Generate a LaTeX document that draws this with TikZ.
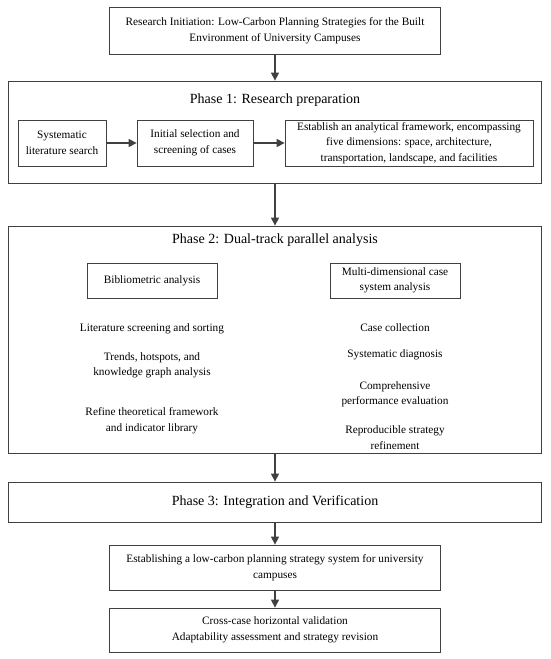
\documentclass[tikz,border=0pt]{standalone}
\usepackage{fontspec}
\setmainfont{Liberation Serif}
\usetikzlibrary{arrows.meta}
\definecolor{linec}{HTML}{404040}
\begin{document}
\begin{tikzpicture}[x=1pt,y=-1pt,
  box/.style={draw=linec, line width=0.8pt, fill=white, inner sep=0pt, anchor=center},
  txt/.style={font=\fontsize{11.3}{15.5}\selectfont, align=center, text=black},
  ttl/.style={font=\fontsize{14}{16}\selectfont, text=black},
  arr/.style={draw=linec, line width=1.3pt, -{Triangle[length=8pt,width=8pt]}}]
\useasboundingbox (0,0) rectangle (550,659);
% top
\node[box, minimum width=331pt, minimum height=47pt] (top) at (275,30.5) {};
\node[txt] (toptxt) at (275,30.5) {Research Initiation: Low-Carbon Planning Strategies for the Built\\Environment of University Campuses};
% phase 1
\node[box, minimum width=533pt, minimum height=102pt] (p1) at (275,132) {};
\node[ttl] (p1t) at (275,100) {Phase 1: Research preparation};
\node[box, minimum width=88pt, minimum height=46pt, txt] (s1) at (62,143) {Systematic\\literature search};
\node[box, minimum width=116pt, minimum height=46pt, txt] (s2) at (195,143) {Initial selection and\\screening of cases};
\node[box, minimum width=248pt, minimum height=46pt, txt] (s3) at (409,143) {Establish an analytical framework, encompassing\\five dimensions: space, architecture,\\transportation, landscape, and facilities};
% phase 2
\node[box, minimum width=533pt, minimum height=227pt] (p2) at (275,339.5) {};
\node[ttl] (p2t) at (275,240) {Phase 2: Dual-track parallel analysis};
\node[box, minimum width=130pt, minimum height=35pt, txt] (bib) at (152,280.5) {Bibliometric analysis};
\node[box, minimum width=130pt, minimum height=35pt, txt] (mul) at (395,280.5) {Multi-dimensional case\\system analysis};
\node[txt] (l1) at (152,329) {Literature screening and sorting};
\node[txt] (l2) at (152,365.5) {Trends, hotspots, and\\knowledge graph analysis};
\node[txt] (l3) at (152,420.5) {Refine theoretical framework\\and indicator library};
\node[txt] (r1) at (395,328) {Case collection};
\node[txt] (r2) at (395,355) {Systematic diagnosis};
\node[txt] (r3) at (395,394.5) {Comprehensive\\performance evaluation};
\node[txt] (r4) at (395,437.5) {Reproducible strategy\\refinement};
% phase 3
\node[box, minimum width=533pt, minimum height=40pt] (p3) at (275,502) {};
\node[ttl] (p3t) at (275,502) {Phase 3: Integration and Verification};
\node[box, minimum width=331pt, minimum height=45pt, txt] (a) at (275,567.5) {Establishing a low-carbon planning strategy system for university\\campuses};
\node[box, minimum width=331pt, minimum height=44pt, txt] (b) at (275,630) {Cross-case horizontal validation\\Adaptability assessment and strategy revision};
% arrows
\draw[arr] (top.south) -- (p1.north);
\draw[arr] (p1.south) -- (p2.north);
\draw[arr] (p2.south) -- (p3.north);
\draw[arr] (p3.south) -- (a.north);
\draw[arr] (a.south) -- (b.north);
\draw[arr] (s1.east) -- (s2.west);
\draw[arr] (s2.east) -- (s3.west);
\end{tikzpicture}
\end{document}
